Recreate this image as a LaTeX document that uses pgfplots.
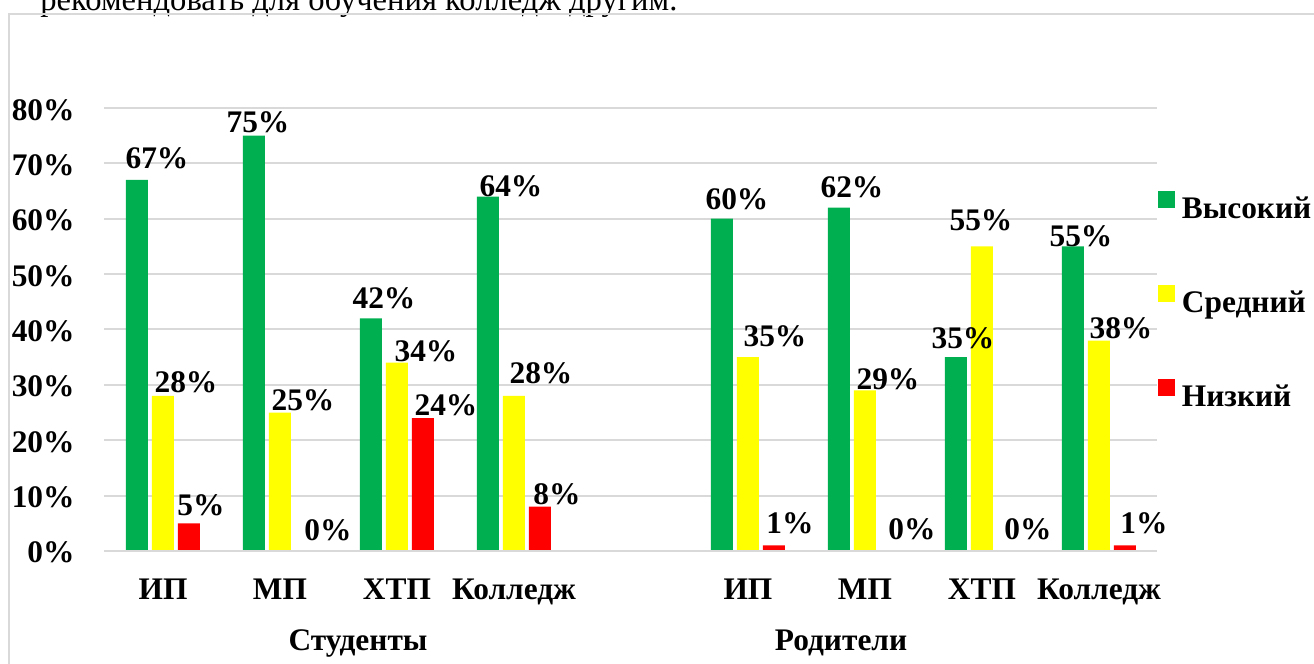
\documentclass[border=0pt]{standalone}
\usepackage{pgfplots}
\pgfplotsset{compat=1.18}
\usepackage{pgfplotstable}
\usepackage{fontspec}
\setmainfont{Liberation Serif}
\definecolor{grn}{HTML}{00B050}
\definecolor{ylw}{HTML}{FFFF00}
\definecolor{rd}{HTML}{FF0000}
\definecolor{grd}{HTML}{D9D9D9}

% x = category position (4 = empty gap), y = percent, dx/dy = label offsets (pt)
\pgfplotstableread{
x y dx dy
0 67 10 5.5
1 75 2 1.5
2 42 6.5 5
3 64 11.5 0
5 60 7.5 4.5
6 62 6.5 5
7 35 3.5 4.5
8 55 4 0
}\high
\pgfplotstableread{
x y dx dy
0 28 11.5 1.5
1 25 11.5 1
2 34 14.5 0.5
3 28 13.5 6
5 35 13.5 5.5
6 29 11.5 0.5
7 55 -0.5 8
8 38 11 1
}\mid
\pgfplotstableread{
x y dx dy
0 5 6 4
1 0 11 5
2 24 11.5 1.5
3 8 8.5 1
5 1 8 6
6 0 10.5 5.5
7 0 10 5.5
8 1 9.5 6
}\low

\newcommand{\lblfont}{\bfseries\fontsize{15.7}{18}\selectfont}

\begin{document}
\begin{tikzpicture}
\useasboundingbox (0,0) rectangle (657pt,332pt);
\node[anchor=base west, inner sep=0pt, font=\fontsize{16.3}{19}\selectfont] at (20pt,326.5pt) {рекомендовать для обучения колледж другим.};
\draw[grd, line width=1pt] (4.25pt,-5pt) -- (4.25pt,324.75pt) -- (665pt,324.75pt);
\begin{axis}[
  at={(52.25pt,56.5pt)}, anchor=south west,
  scale only axis, width=526.5pt, height=221.5pt,
  xmin=-0.5, xmax=8.5, ymin=0, ymax=80,
  clip=false,
  ybar, bar width=11pt,
  axis line style={draw=none},
  major tick length=0pt,
  ytick={0,10,...,80},
  yticklabels={0\%,10\%,20\%,30\%,40\%,50\%,60\%,70\%,80\%},
  xtick={0,1,2,3,5,6,7,8},
  xticklabels={ИП,МП,ХТП,Колледж,ИП,МП,ХТП,Колледж},
  ymajorgrids, major grid style={grd, line width=1pt},
  tick label style={font=\lblfont},
  xticklabel style={anchor=base, yshift=-24.5pt},
  yticklabel style={anchor=base east, inner sep=0pt, xshift=-14.75pt, yshift=-6pt},
  nodes near coords={\pgfmathprintnumber[assume math mode=true]{\pgfplotspointmeta}\%},
  nodes near coords style={font=\lblfont, anchor=base, inner sep=0pt, xshift=\dx pt, yshift=\dy pt},
  visualization depends on={\thisrow{dx} \as \dx},
  visualization depends on={\thisrow{dy} \as \dy},
  legend style={at={(1,0.56)}, anchor=west, draw=none, fill=none, inner sep=0pt,
    font=\lblfont, row sep=29pt,
    nodes={inner xsep=3.5pt, inner ysep=0pt, text height=11pt, text depth=4pt}},
  legend cell align=left,
  legend image code/.code={\fill[#1] (0pt,2pt) rectangle (8.5pt,10.5pt);},
]
\addplot[fill=grn, draw=none, bar shift=-13pt] table[x=x, y=y] {\high};
\addlegendentry{Высокий}
\addplot[fill=ylw, draw=none, bar shift=0pt] table[x=x, y=y] {\mid};
\addlegendentry{Средний}
\addplot[fill=rd, draw=none, bar shift=13pt] table[x=x, y=y] {\low};
\addlegendentry{Низкий}
\draw[grd, line width=1pt] (axis cs:-0.5,0) -- (axis cs:8.5,0);
\node[font=\lblfont, anchor=base, yshift=-50pt] at (axis cs:1.667,0) {Студенты};
\node[font=\lblfont, anchor=base, yshift=-50pt] at (axis cs:5.795,0) {Родители};
\end{axis}
\end{tikzpicture}
\end{document}
